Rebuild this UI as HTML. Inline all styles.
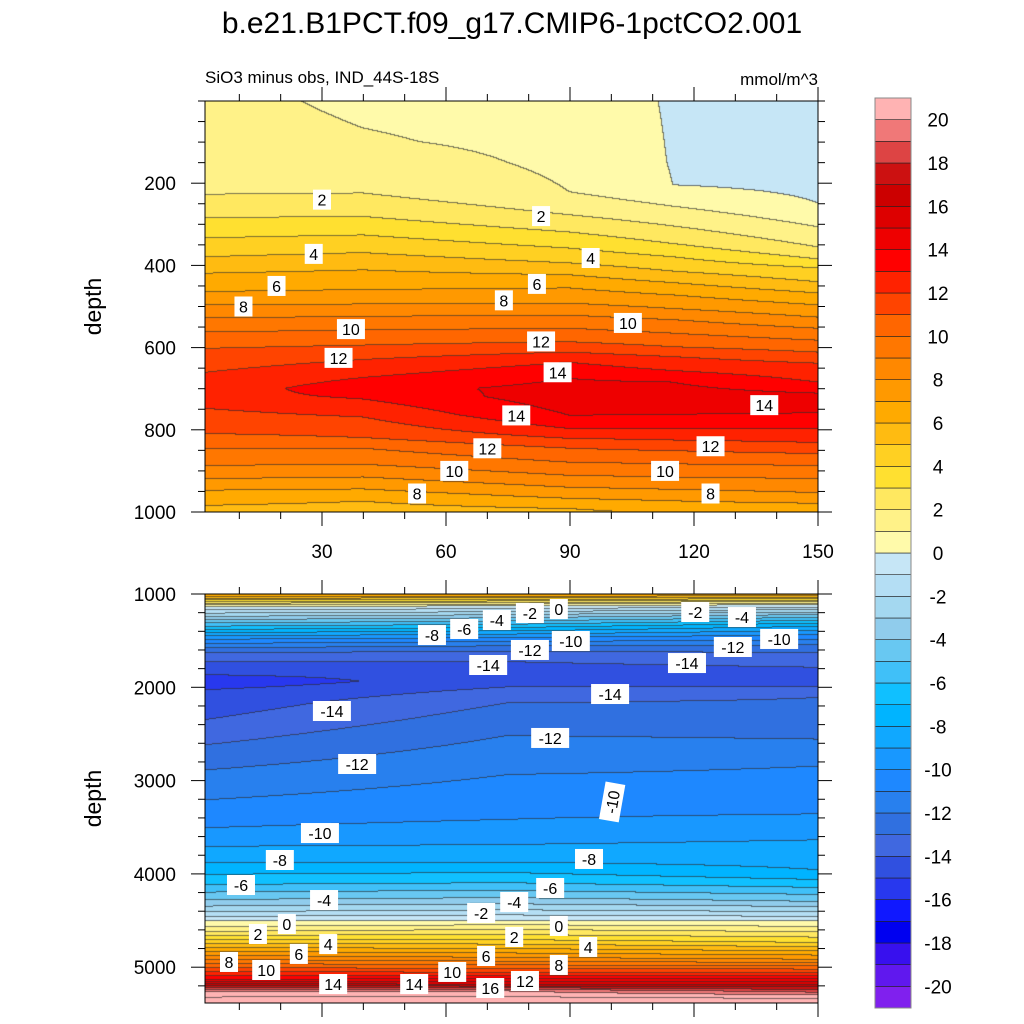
<!DOCTYPE html>
<html><head><meta charset="utf-8">
<style>
html,body{margin:0;padding:0;background:#fff;}
#wrap{position:relative;width:1024px;height:1024px;overflow:hidden;font-family:"Liberation Sans",sans-serif;}
canvas{position:absolute;}
svg{position:absolute;left:0;top:0;}
</style></head>
<body>
<div id="wrap">
<canvas id="c1" width="613" height="411" style="left:205px;top:101px"></canvas>
<canvas id="c2" width="613" height="409" style="left:205px;top:594px"></canvas>
<svg id="svg" width="1024" height="1024"></svg>
</div>
<script>
// ---------- data ----------
const levelColors = ["#8020ee","#6018ee","#3810ee","#0000f0","#1018ff","#2838ee","#3050e0","#4068e0","#3070e0","#2880ee","#1e88ff","#1898ff","#10a8ff","#00b4ff","#10c0ff","#40c0f8","#68c8f2","#90ccec","#a4d8f0","#b4def4","#c6e6f6","#fffaaa","#fff288","#ffe860","#ffe030","#ffd022","#ffbb11","#ffaa00","#ff9900","#ff8800","#ff7700","#ff6600","#ff4400","#ff2200","#ff0000","#ee0000","#dd0000","#cc0000","#cc1111","#dd4444","#f07878","#ffb3b3"];
const colorbarLabels = [20,18,16,14,12,10,8,6,4,2,0,-2,-4,-6,-8,-10,-12,-14,-16,-18,-20];
// upper panel (0-1000 m) profiles at several longitudes
const upperX = [2,40,90,115,150];
const upperDepths = [
 [0,100,229,285,334,380,420,465,497,529,563,603,661,720,749,810,846,888,920,948,985,1000],
 [0,100,225,282,327,370,412,460,495,525,558,595,630,700,770,820,846,885,916,945,975,1000],
 [0,150,222,278,320,359,395,424,456,493,522,554,587,612,637,676,720,766,798,822,846,880,912,941,968,993,1000],
 [0,150,205,257,305,348,380,415,443,473,506,533,566,599,623,657,685,720,764,798,826,852,884,916,946,974,1000],
 [0,200,249,307,356,385,407,441,468,497,527,554,583,612,639,685,720,760,798,832,859,888,920,954,980,1000]];
const upperValues = [
 [1.3,1.5,2,3,4,5,6,7,8,9,10,11,12,12.6,12,11,10,9,8,7,6,5.7],
 [0.8,1.1,2,3,4,5,6,7,8,9,10,11,12,13.6,12,11,10,9,8,7,6,5.5],
 [0.6,0.8,1,2,3,4,5,6,7,8,9,10,11,12,13,14,14.6,14,13,12,11,10,9,8,7,6,5.8],
 [-0.1,-0.05,0,1,2,3,4,5,6,7,8,9,10,11,12,13,14,14.5,14,13,12,11,10,9,8,7,6.2],
 [-0.5,-0.3,0,1,2,3,4,5,6,7,8,9,10,11,12,13,14.3,14,13,12,11,10,9,8,7,6.5]];
// lower panel (1000-5375 m)
const lowerX = [2,75,150];
const lowerDepths = [
 [1000,1032,1140,1280,1350,1420,1490,1580,1630,1730,1870,1940,2030,2350,2620,2890,3210,3510,3710,3880,4010,4120,4200,4280,4350,4410,4460,4510,4570,4620,4880,5050,5140,5180,5270,5380],
 [1000,1030,1130,1260,1330,1400,1470,1560,1620,1730,1850,2000,2170,2520,2940,3420,3690,3880,4100,4260,4390,4500,4600,4710,4900,5060,5190,5260,5380],
 [1000,1025,1118,1225,1350,1440,1550,1630,1790,1880,2000,2115,2560,2850,3250,3640,3960,4065,4150,4225,4300,4410,4510,4740,4920,5060,5190,5300,5380]];
const lowerValues = [
 [7,6,0,-4,-6,-8,-10,-12,-13,-14,-15,-15.8,-15,-14,-13,-12,-11,-10,-9,-8,-7,-6,-5,-4,-3,-2,-1,0,1,2,8,12,14,16,20,22],
 [7,6,0,-4,-6,-8,-10,-12,-13,-14,-14.6,-14,-13,-12,-11,-10,-9,-8,-6,-4,-2,0,2,4,8,12,16,20,22],
 [7,6,0,-4,-8,-10,-12,-13,-14,-14.3,-14,-13,-12,-11,-10.4,-9,-8,-7,-6,-5,-4,-2,0,4,8,12,16,20,22]];
const xTickVals = [30,60,90,120,150];
const upperYTicks = [200,400,600,800,1000];
const lowerYTicks = [1000,2000,3000,4000,5000];
const upperLabels = [[30,240,"2"],[83,280,"2"],[28,372,"4"],[95,382,"4"],[19,450,"6"],[82,445,"6"],[11,500,"8"],[74,485,"8"],[37,555,"10"],[104,540,"10"],[34,625,"12"],[83,585,"12"],[87,660,"14"],[77,765,"14"],[137,740,"14"],[70,845,"12"],[124,840,"12"],[62,900,"10"],[113,900,"10"],[53,955,"8"],[124,955,"8"]];
const lowerLabels = [[72.3,1279,"-4"],[80.3,1204,"-2"],[87.3,1161,"0"],[120.3,1193,"-2"],[131.6,1247,"-4"],[64.4,1375,"-6"],[56.6,1440,"-8"],[80.3,1600,"-12"],[90.2,1504,"-10"],[129.4,1568,"-12"],[140.6,1482,"-10"],[70.2,1761,"-14"],[118.3,1740,"-14"],[99.7,2072,"-14"],[32.4,2254,"-14"],[85.2,2543,"-12"],[38.5,2822,"-12"],[100.2,3229,"-10"],[29.5,3562,"-10"],[19.8,3851,"-8"],[94.6,3840,"-8"],[10.4,4119,"-6"],[85.2,4151,"-6"],[30.5,4280,"-4"],[76.5,4301,"-4"],[68.5,4419,"-2"],[21.5,4537,"0"],[87.3,4558,"0"],[14.5,4644,"2"],[76.5,4676,"2"],[31.5,4752,"4"],[94.4,4783,"4"],[24.4,4858,"6"],[69.7,4880,"6"],[7.5,4944,"8"],[87.3,4976,"8"],[16.5,5030,"10"],[61.5,5051,"10"],[32.7,5180,"14"],[52.3,5180,"14"],[70.7,5223,"16"],[79.1,5148,"12"]];
const rotatedLower = {"17":-80};

// ---------- axes ----------
const X0=198, XS=124/30;
function xPix(v){return X0+v*XS;}
function yUpper(d){return 101+d*0.411;}
function yLower(d){return 594+(d-1000)*0.0933;}
function dUpper(y){return (y-101)/0.411;}
function dLower(y){return 1000+(y-594)/0.0933;}

function interp1(xs,ys,x){
  if(x<=xs[0])return ys[0];
  for(let i=1;i<xs.length;i++){ if(x<=xs[i]){const t=(x-xs[i-1])/(xs[i]-xs[i-1]);return ys[i-1]+t*(ys[i]-ys[i-1]);} }
  return ys[ys.length-1];
}
function hex(c){return [parseInt(c.substr(1,2),16),parseInt(c.substr(3,2),16),parseInt(c.substr(5,2),16)];}
const rgb=levelColors.map(hex);
function colorIdx(v){let k=Math.floor(v)+21;return Math.max(0,Math.min(41,k));}

function drawField(id,cols,depths,values,dOf,top){
  const cv=document.getElementById(id),ctx=cv.getContext('2d');
  const W=cv.width,H=cv.height;
  const img=ctx.createImageData(W,H);
  const vals=new Float32Array(W*H);
  for(let j=0;j<H;j++){
    const d=dOf(top+j+0.5);
    const colV=cols.map((c,i)=>interp1(depths[i],values[i],d));
    for(let i=0;i<W;i++){
      const xv=(205+i+0.5-X0)/XS;
      vals[j*W+i]=interp1(cols,colV,xv);
    }
  }
  for(let j=0;j<H;j++)for(let i=0;i<W;i++){
    const v=vals[j*W+i],k=colorIdx(v);let c=rgb[k];
    let line=false;
    if(i+1<W && Math.floor(vals[j*W+i+1])!==Math.floor(v)) line=true;
    if(j+1<H && Math.floor(vals[(j+1)*W+i])!==Math.floor(v)) line=true;
    const p=(j*W+i)*4;
    if(line){img.data[p]=c[0]*0.35+30;img.data[p+1]=c[1]*0.35+30;img.data[p+2]=c[2]*0.35+30;}
    else{img.data[p]=c[0];img.data[p+1]=c[1];img.data[p+2]=c[2];}
    img.data[p+3]=255;
  }
  ctx.putImageData(img,0,0);
}
drawField('c1',upperX,upperDepths,upperValues,dUpper,101);
drawField('c2',lowerX,lowerDepths,lowerValues,dLower,594);

// ---------- svg overlay ----------
const NS="http://www.w3.org/2000/svg", svg=document.getElementById('svg');
function mk(tag,attrs,parent){const e=document.createElementNS(NS,tag);for(const k in attrs)e.setAttribute(k,attrs[k]);(parent||svg).appendChild(e);return e;}
function txt(x,y,s,size,anchor,parent){const t=mk('text',{x:x,y:y,'font-size':size,'text-anchor':anchor||'middle','font-family':'Liberation Sans, sans-serif',fill:'#000'},parent);t.textContent=s;return t;}

function panel(top,bot,yTicks,yFn,minorStep,dmin,dmax,showX,name){
  const g=mk('g',{});
  
  
  mk('rect',{x:205,y:top,width:613,height:bot-top,fill:'none',stroke:'#000','stroke-width':1},g);
  for(let v=10;v<=150;v+=10){
    const x=xPix(v),major=(v%30===0),L=major?14:7;
    mk('line',{x1:x,y1:bot,x2:x,y2:bot+L,stroke:'#000','stroke-width':1},g);
    mk('line',{x1:x,y1:top,x2:x,y2:top-L,stroke:'#000','stroke-width':1},g);
  }
  if(showX) xTickVals.forEach(v=>{const t=txt(xPix(v),bot+46,String(v),19,'middle',g);});
  for(let d=Math.ceil(dmin/minorStep)*minorStep;d<=dmax;d+=minorStep){
    const y=yFn(d);if(y<top-0.5||y>bot+0.5)continue;
    const major=yTicks.indexOf(d)>=0,L=major?14:7;
    mk('line',{x1:205,y1:y,x2:205-L,y2:y,stroke:'#000','stroke-width':1},g);
    mk('line',{x1:818,y1:y,x2:818+L,y2:y,stroke:'#000','stroke-width':1},g);
  }
  yTicks.forEach(d=>{const t=txt(176,yFn(d)+7,String(d),19,'end',g);});
  const yl=txt(0,0,'depth',23,'middle',g);
  yl.setAttribute('transform','translate(101,'+((top+bot)/2)+') rotate(-90)');
  
  
}
panel(101,512,upperYTicks,yUpper,50,0,1000,true,'upper-panel-axes');
panel(594,1003,lowerYTicks,yLower,200,1000,5375,false,'lower-panel-axes');

function labels(list,yFn,name,rot){
  list.forEach((l,i)=>{
    const x=xPix(l[0]),y=yFn(l[1]),s=l[2],w=s.length*10+8;
    const g=mk('g',{});
    
    
    if(rot && rot[i]!==undefined) g.setAttribute('transform','rotate('+rot[i]+' '+x+' '+y+')');
    mk('rect',{x:x-w/2,y:y-10,width:w,height:20,fill:'#fff'},g);
    txt(x,y+6,s,16,'middle',g);
  });
}
labels(upperLabels,yUpper,'contour-label');
labels(lowerLabels,yLower,'contour-label',rotatedLower);

let t=txt(512,33,'b.e21.B1PCT.f09_g17.CMIP6-1pctCO2.001',30,'middle');

t=txt(205,83,'SiO3 minus obs, IND_44S-18S',17,'start');

t=txt(818,85,'mmol/m^3',17,'end');


const cb=mk('g',{});


const CB0=98,CBH=910/42;
for(let k=0;k<42;k++){
  const r=mk('rect',{x:875,y:CB0+(41-k)*CBH,width:36,height:CBH,fill:levelColors[k],stroke:'#222','stroke-width':0.6},cb);
  
  
}
mk('rect',{x:875,y:CB0,width:36,height:910,fill:'none',stroke:'#888','stroke-width':1},cb);
colorbarLabels.forEach(v=>{
  const y=CB0+(21-v)*CBH;
  const l=txt(938,y+7,String(v),19,'middle',cb);
  
  
});
</script>
</body></html>
